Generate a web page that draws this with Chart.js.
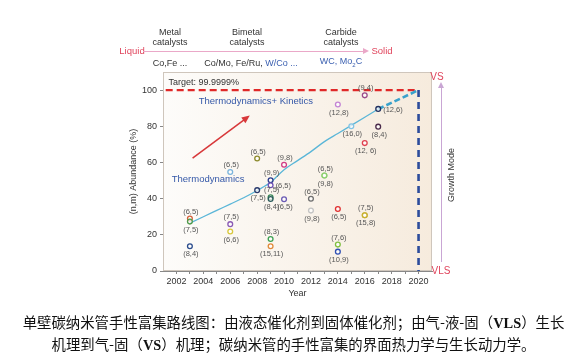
<!DOCTYPE html>
<html>
<head>
<meta charset="utf-8">
<script src="https://cdn.jsdelivr.net/npm/chart.js@4.4.1/dist/chart.umd.min.js"></script>
<style>
body { margin: 0; background: #fff; }
#wrap { position: relative; width: 587px; height: 358px; overflow: hidden; font-family: "Liberation Sans", Arial, sans-serif; }
#c { position: absolute; left: 0; top: 0; }
.t { position: absolute; font-size: 9px; color: #333; line-height: 10px; white-space: nowrap; text-align: center; transform: translate(-50%, -50%); }
.red { color: #e0445c; font-size: 9.5px; }
.blue { color: #3a5fb0; }
.hline { position: absolute; height: 1px; background: #eaa8c8; }
.vline { position: absolute; width: 1px; background: #c9a6d4; }
.cap { position: absolute; left: 0; width: 587px; text-align: center; font-family: "Noto Sans CJK SC", sans-serif; font-size: 14.4px; color: #111; line-height: 16px; white-space: nowrap; }
.cap b { font-family: "Liberation Serif", serif; font-weight: bold; }
</style>
</head>
<body>
<div id="wrap">
  <canvas id="c" width="587" height="358"></canvas>

  <!-- 上方催化剂说明 -->
  <div class="t" style="left:170px;top:37px;">Metal<br>catalysts</div>
  <div class="t" style="left:247px;top:37px;">Bimetal<br>catalysts</div>
  <div class="t" style="left:341px;top:37px;">Carbide<br>catalysts</div>
  <div class="t red" style="left:132px;top:51px;">Liquid</div>
  <div class="hline" style="left:143px;top:51px;width:221px;"></div>
  <div style="position:absolute;left:363px;top:48px;width:0;height:0;border-top:3px solid transparent;border-bottom:3px solid transparent;border-left:6px solid #eaa8c8;"></div>
  <div class="t red" style="left:382px;top:51px;">Solid</div>
  <div class="t" style="left:170px;top:63px;">Co,Fe ...</div>
  <div class="t" style="left:251px;top:63px;">Co/Mo, Fe/Ru, <span class="blue">W/Co ...</span></div>
  <div class="t blue" style="left:341px;top:63px;">WC, Mo<sub style="font-size:6px;">2</sub>C</div>

  <!-- 右側生長模式 -->
  <div class="t red" style="left:437px;top:77px;font-size:10px;">VS</div>
  <div style="position:absolute;left:438px;top:82px;width:0;height:0;border-left:3px solid transparent;border-right:3px solid transparent;border-bottom:6px solid #c9a6d4;"></div>
  <div class="vline" style="left:441px;top:87px;height:175px;"></div>
  <div class="t" style="left:451px;top:175px;transform:translate(-50%,-50%) rotate(-90deg);">Growth Mode</div>
  <div class="t red" style="left:441px;top:271px;font-size:10px;">VLS</div>

  <!-- 圖說 -->
  <div class="cap" style="top:314px;">单壁碳纳米管手性富集路线图：由液态催化剂到固体催化剂；由气-液-固（<b>VLS</b>）生长</div>
  <div class="cap" style="top:336px;">机理到气-固（<b>VS</b>）机理；碳纳米管的手性富集的界面热力学与生长动力学。</div>
</div>

<script>
// 各篇文獻的手性富集數據 (年份, 豐度%, 手性指數)
const ptYears  = [2003, 2003, 2003, 2006, 2006, 2006, 2008, 2008, 2009, 2009, 2009, 2009, 2010, 2010, 2009, 2009,
                  2012, 2012, 2013, 2013, 2014, 2016, 2016, 2014, 2014, 2014, 2016, 2017, 2015, 2017, 2016];
const ptValues = [13.7, 29, 27.3, 25.9, 21.8, 54.7, 62.2, 44.7, 50.2, 47.4, 40.8, 39.8, 58.7, 39.7, 17.7, 13.7,
                  39.9, 33.4, 52.8, 52.8, 34.3, 30.8, 30.8, 14.6, 10.7, 92, 97.1, 89.6, 80, 79.8, 70.7];
const ptLabels = ['(8,4)', '(6,5)', '(7,5)', '(7,5)', '(6,6)', '(6,5)', '(6,5)', '(7,5)', '(9,9)', '(6,5)', '(7,5)', '(8,4)', '(9,8)', '(6,5)', '(8,3)', '(15,11)',
                  '(6,5)', '(9,8)', '(6,5)', '(9,8)', '(6,5)', '(7,5)', '(15,8)', '(7,6)', '(10,9)', '(12,8)', '(9,4)', '(12,6)', '(16,0)', '(8,4)', '(12, 6)'];

// 趨勢線 (Thermodynamics + Kinetics)
const curveYears  = [2003, 2004, 2005, 2006, 2007, 2008, 2009, 2010, 2011, 2012, 2013, 2014, 2015, 2016, 2017];
const curveValues = [26.5, 30, 33.5, 37, 40.5, 44.5, 49, 56, 61, 66, 71.5, 76, 80.5, 85, 89.5];
const dashYears  = [2017, 2020];
const dashValues = [89.5, 100];

const targetValue = 100;
const targetYears = [2001.2, 2020];
const limitYear = 2020;

const xTicks = [2002, 2003, 2004, 2005, 2006, 2007, 2008, 2009, 2010, 2011, 2012, 2013, 2014, 2015, 2016, 2017, 2018, 2019, 2020];
const yTicks = [0, 20, 40, 60, 80, 100];

// 樣式 (顏色與標籤位置)
const ptColors = ['#2b4c8c', '#d6603c', '#4f9a4a', '#8a5ab4', '#d8c83c', '#7ab4dc', '#8c8a2c', '#2a3a6c', '#2a3a8c', '#6e50b4', '#3c8a5a', '#2a5a5a', '#d23c84', '#6a5ab4', '#3ca052', '#e08a3a',
                  '#6e6e6e', '#c4c4c4', '#8ed070', '#8ed070', '#e03030', '#c8b030', '#c8b030', '#80c040', '#3050b4', '#c484d4', '#9a4a8a', '#203060', '#84c4e4', '#4a2a4a', '#e04050'];
const ptLabelPos = ['b', 'a', 'b', 'a', 'b', 'a', 'a', 'b', 'a', 'r', 'a', 'b', 'a', 'b', 'a', 'b',
                    'a', 'b', 'a', 'b', 'b', 'a', 'b', 'a', 'b', 'b', 'a', 'r', 'b', 'b', 'b'];

const toXY = (xs, ys) => xs.map((x, i) => ({ x: x, y: ys[i] }));

// 背景漸層 + 外框
const bgPlugin = {
    id: 'bg',
    beforeDatasetsDraw(chart) {
        const { ctx, chartArea: a } = chart;
        const g = ctx.createLinearGradient(a.left, 0, a.right, 0);
        g.addColorStop(0, '#fdfcfa');
        g.addColorStop(1, '#f6ebdd');
        ctx.save();
        ctx.fillStyle = g;
        ctx.fillRect(a.left, a.top, a.right - a.left, a.bottom - a.top);
        ctx.strokeStyle = '#cfc6bc';
        ctx.lineWidth = 1;
        ctx.strokeRect(a.left + 0.5, a.top + 0.5, a.right - a.left - 1, a.bottom - a.top - 1);
        ctx.restore();
    }
};

// 點標籤、文字註解、箭頭
const notePlugin = {
    id: 'notes',
    afterDatasetsDraw(chart) {
        const { ctx } = chart;
        const xs = chart.scales.x, ys = chart.scales.y;
        ctx.save();
        ctx.font = '7.5px "Liberation Sans", Arial, sans-serif';
        ctx.fillStyle = '#555';
        ctx.textBaseline = 'middle';
        ptLabels.forEach((lab, i) => {
            const px = xs.getPixelForValue(ptYears[i]);
            const py = ys.getPixelForValue(ptValues[i]);
            const pos = ptLabelPos[i];
            if (pos === 'r') {
                ctx.textAlign = 'left';
                ctx.fillText(lab, px + 5, py + 1);
            } else {
                ctx.textAlign = 'center';
                ctx.fillText(lab, px + 1, pos === 'a' ? py - 7 : py + 8);
            }
        });

        ctx.textAlign = 'left';
        ctx.font = '9px "Liberation Sans", Arial, sans-serif';
        ctx.fillStyle = '#333';
        ctx.fillText('Target: 99.9999%', xs.getPixelForValue(2001.4), ys.getPixelForValue(104.3));

        ctx.font = '9.5px "Liberation Sans", Arial, sans-serif';
        ctx.fillStyle = '#3558a8';
        ctx.fillText('Thermodynamics+ Kinetics', xs.getPixelForValue(2003.65), ys.getPixelForValue(93.5));
        ctx.fillText('Thermodynamics', xs.getPixelForValue(2001.65), ys.getPixelForValue(50.4));

        // 紅色箭頭
        const x1 = xs.getPixelForValue(2003.2), y1 = ys.getPixelForValue(62.4);
        const x2 = xs.getPixelForValue(2007.45), y2 = ys.getPixelForValue(85.9);
        const ang = Math.atan2(y2 - y1, x2 - x1);
        ctx.strokeStyle = '#d8383a';
        ctx.fillStyle = '#d8383a';
        ctx.lineWidth = 1.5;
        ctx.beginPath();
        ctx.moveTo(x1, y1);
        ctx.lineTo(x2 - 5 * Math.cos(ang), y2 - 5 * Math.sin(ang));
        ctx.stroke();
        ctx.beginPath();
        ctx.moveTo(x2, y2);
        ctx.lineTo(x2 - 8 * Math.cos(ang) + 3.5 * Math.sin(ang), y2 - 8 * Math.sin(ang) - 3.5 * Math.cos(ang));
        ctx.lineTo(x2 - 8 * Math.cos(ang) - 3.5 * Math.sin(ang), y2 - 8 * Math.sin(ang) + 3.5 * Math.cos(ang));
        ctx.closePath();
        ctx.fill();
        ctx.restore();
    }
};

new Chart(document.getElementById('c'), {
    type: 'scatter',
    data: {
        datasets: [
            {
                data: toXY(ptYears, ptValues),
                pointRadius: 2.4,
                pointBorderWidth: 1.3,
                pointBackgroundColor: 'rgba(255,255,255,0.7)',
                pointBorderColor: ptColors,
                order: 0
            },
            {
                type: 'line',
                data: toXY(curveYears, curveValues),
                borderColor: '#5ab6d8',
                borderWidth: 1.3,
                pointRadius: 0,
                cubicInterpolationMode: 'monotone',
                order: 1
            },
            {
                type: 'line',
                data: toXY(dashYears, dashValues),
                borderColor: '#3aa2cc',
                borderWidth: 2.6,
                borderDash: [6, 3],
                pointRadius: 0,
                order: 1
            },
            {
                type: 'line',
                data: toXY(targetYears, [targetValue, targetValue]),
                borderColor: '#e02828',
                borderWidth: 2.2,
                borderDash: [7, 4],
                pointRadius: 0,
                order: 2
            },
            {
                type: 'line',
                data: toXY([limitYear, limitYear], [targetValue, 0]),
                borderColor: '#2c4c9c',
                borderWidth: 2.6,
                borderDash: [7, 5],
                pointRadius: 0,
                order: 2
            }
        ]
    },
    options: {
        responsive: false,
        animation: false,
        events: [],
        layout: { padding: { left: 124, right: 155, top: 72, bottom: 55 } },
        plugins: { legend: { display: false }, tooltip: { enabled: false } },
        scales: {
            x: {
                type: 'linear',
                min: 2001,
                max: 2021,
                afterBuildTicks: (s) => { s.ticks = xTicks.map(v => ({ value: v })); },
                afterFit: (s) => { s.height = 32; },
                ticks: {
                    autoSkip: false,
                    maxRotation: 0,
                    padding: 2,
                    color: '#333',
                    font: { size: 9, family: '"Liberation Sans", Arial, sans-serif' },
                    callback: (v) => (v % 2 === 0 ? String(v) : '')
                },
                grid: { drawOnChartArea: false, tickLength: 3, color: '#888' },
                border: { color: '#888' },
                title: {
                    display: true,
                    text: 'Year',
                    color: '#333',
                    padding: { top: 0, bottom: 4 },
                    font: { size: 9, family: '"Liberation Sans", Arial, sans-serif' }
                }
            },
            y: {
                min: 0,
                max: 110,
                afterBuildTicks: (s) => { s.ticks = yTicks.map(v => ({ value: v })); },
                afterFit: (s) => { s.width = 39; },
                ticks: {
                    padding: 3,
                    color: '#333',
                    font: { size: 9, family: '"Liberation Sans", Arial, sans-serif' }
                },
                grid: { drawOnChartArea: false, tickLength: 3, color: '#888' },
                border: { color: '#888' },
                title: {
                    display: true,
                    text: '(n,m) Abundance (%)',
                    color: '#333',
                    padding: { top: 4, bottom: 0 },
                    font: { size: 9, family: '"Liberation Sans", Arial, sans-serif' }
                }
            }
        }
    },
    plugins: [bgPlugin, notePlugin]
});
</script>
</body>
</html>
